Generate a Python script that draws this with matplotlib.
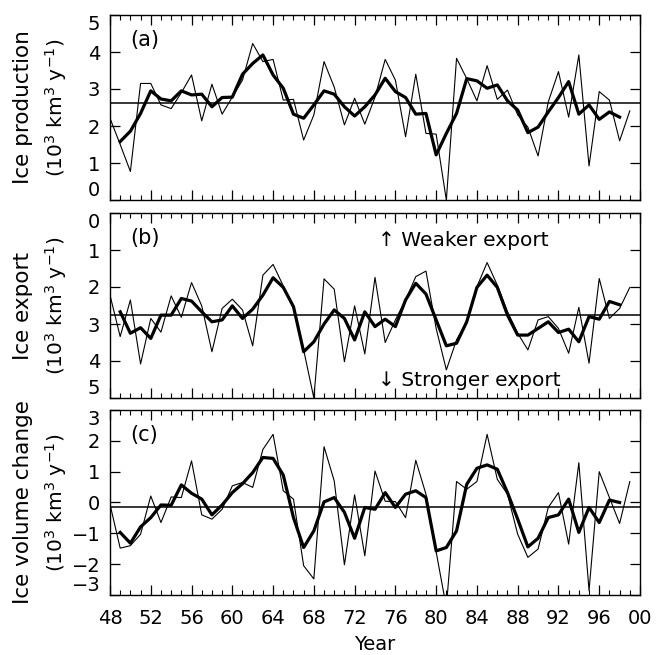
import matplotlib
matplotlib.use("Agg")
import matplotlib.pyplot as plt
from matplotlib.ticker import MultipleLocator, FuncFormatter

# annual values (thin) and smoothed values (thick), years 48-99 / 49-98
years = list(range(48, 100))
years_s = list(range(49, 99))

prod = [2.21, 1.5, 0.77, 3.15, 3.15, 2.57, 2.47, 2.9, 3.38, 2.14,
        3.13, 2.32, 2.78, 3.24, 4.23, 3.74, 3.8, 2.7, 2.72, 1.62,
        2.3, 3.74, 3.05, 2.03, 2.75, 2.05, 2.78, 3.8, 3.24, 1.71,
        3.4, 1.8, 1.78, 0.0, 3.83, 3.28, 2.68, 3.63, 2.72, 2.97,
        2.3, 1.97, 1.19, 2.65, 3.47, 2.24, 3.92, 0.92, 2.93, 2.7,
        1.6, 2.41]
prod_s = [1.58, 1.86, 2.34, 2.95, 2.73, 2.68, 2.95, 2.84, 2.86, 2.52,
          2.77, 2.78, 3.4, 3.69, 3.92, 3.38, 3.02, 2.32, 2.21, 2.57,
          2.95, 2.86, 2.52, 2.27, 2.52, 2.84, 3.29, 2.93, 2.77, 2.32,
          2.34, 1.22, 1.8, 2.34, 3.28, 3.22, 3.02, 3.11, 2.68, 2.43,
          1.82, 1.97, 2.38, 2.77, 3.2, 2.32, 2.57, 2.18, 2.38, 2.24]
prod_mean = 2.61

export = [2.22, 3.34, 2.35, 4.08, 2.85, 3.22, 2.24, 2.82, 1.88, 2.51,
          3.75, 2.58, 2.33, 2.62, 3.59, 1.68, 1.39, 1.97, 2.58, 3.7,
          5.0, 1.78, 2.06, 4.02, 2.51, 3.81, 1.74, 3.5, 2.89, 2.35,
          1.72, 1.57, 3.12, 4.24, 3.43, 2.94, 1.99, 1.34, 1.95, 2.67,
          3.25, 3.7, 2.89, 2.8, 3.12, 3.79, 2.55, 4.06, 1.77, 2.85,
          2.58, 2.01]
export_s = [2.67, 3.25, 3.1, 3.39, 2.76, 2.76, 2.31, 2.38, 2.67, 2.94,
            2.89, 2.51, 2.85, 2.6, 2.22, 1.75, 2.01, 2.53, 3.75, 3.48,
            3.0, 2.62, 2.85, 3.43, 2.67, 3.07, 2.87, 3.07, 2.35, 1.9,
            2.19, 2.89, 3.59, 3.52, 2.94, 2.01, 1.68, 2.01, 2.76, 3.3,
            3.3, 3.12, 2.94, 3.23, 3.14, 3.48, 2.8, 2.87, 2.39, 2.48]
export_mean = 2.77

dvol = [-0.06, -1.48, -1.4, -1.03, 0.21, -0.65, 0.18, 0.16, 1.35, -0.4,
        -0.54, -0.22, 0.54, 0.65, 0.49, 1.72, 2.21, 0.38, 0.11, -2.05,
        -2.48, 1.81, 0.7, -2.02, 0.25, -1.73, 1.02, 0.04, 0.03, -0.49,
        1.37, 0.27, -1.6, -3.4, 0.68, 0.43, 0.68, 2.21, 0.75, 0.27,
        -1.03, -1.78, -1.51, -0.16, 0.32, -1.35, 1.29, -2.86, 1.0, 0.16,
        -0.68, 0.68]
dvol_s = [-0.97, -1.32, -0.79, -0.49, -0.08, -0.09, 0.57, 0.3, 0.11, -0.4,
          -0.08, 0.32, 0.61, 0.97, 1.46, 1.43, 0.89, -0.49, -1.46, -0.92,
          0.02, 0.16, -0.32, -1.16, -0.16, -0.22, 0.32, -0.16, 0.27, 0.38,
          0.16, -1.57, -1.46, -0.92, 0.59, 1.11, 1.22, 1.08, 0.32, -0.54,
          -1.44, -1.16, -0.49, -0.4, 0.11, -0.97, -0.16, -0.65, 0.08, 0.0]
dvol_mean = -0.14

plt.rcParams['font.family'] = 'DejaVu Sans'
plt.rcParams['font.size'] = 13

fig = plt.figure(figsize=(6.61, 6.55), dpi=100)
W, H = 661, 655
left, right = 110, 640
tops = [15, 213, 410]
h = 185

unit = "(10$^3$ km$^3$ y$^{-1}$)"
panels = [
    (prod, prod_s, prod_mean, (0, 5), "Ice production", "(a)"),
    (export, export_s, export_mean, (5, 0), "Ice export", "(b)"),
    (dvol, dvol_s, dvol_mean, (-3, 3), "Ice volume change", "(c)"),
]

axes = []
for i, (thin, thick, mean, ylim, name, tag) in enumerate(panels):
    top = tops[i]
    ax = fig.add_axes([left / W, 1 - (top + h) / H, (right - left) / W, h / H])
    ax.plot(years, thin, color="black", lw=0.8)
    ax.plot(years_s, thick, color="black", lw=2.3)
    ax.axhline(mean, color="black", lw=1.1)
    ax.set_xlim(48, 100)
    ax.set_ylim(*ylim)
    ax.xaxis.set_major_locator(MultipleLocator(4))
    ax.xaxis.set_minor_locator(MultipleLocator(1))
    ax.yaxis.set_major_locator(MultipleLocator(1))
    ax.tick_params(which="both", direction="in", top=True, right=True)
    ax.tick_params(which="major", length=7, width=0.9)
    ax.tick_params(which="minor", length=3.5, width=0.8)
    ax.tick_params(axis="y", pad=7, labelsize=14)
    for sp in ax.spines.values():
        sp.set_linewidth(1.0)
    ax.text(0.038, 0.865, tag, transform=ax.transAxes, fontsize=15,
            ha="left", va="center")
    # keep the end labels inside the panel so neighbours do not collide
    fig.canvas.draw()
    ticks = ax.get_yticks()
    lo, hi = min(ylim), max(ylim)
    for t, lab in zip(ticks, ax.get_yticklabels()):
        if abs(t - hi) < 1e-6:
            lab.set_va("top" if ylim[1] > ylim[0] else "bottom")
        elif abs(t - lo) < 1e-6:
            lab.set_va("bottom" if ylim[1] > ylim[0] else "top")
    yc = 1 - (top + h / 2) / H
    fig.text(23 / W, yc, name, rotation=90, ha="center", va="center", fontsize=15.5)
    fig.text(56 / W, yc, unit, rotation=90, ha="center", va="center", fontsize=14.5)
    if i < 2:
        ax.tick_params(axis="x", labelbottom=False)
    axes.append(ax)

axes[2].xaxis.set_major_formatter(FuncFormatter(lambda v, p: "%02d" % (int(v) % 100)))
axes[2].tick_params(axis="x", pad=10, labelsize=14)
axes[2].set_xlabel("Year", fontsize=14, labelpad=5)

axes[1].text(0.505, 0.854, "\u2191 Weaker export", transform=axes[1].transAxes,
             fontsize=14.5, ha="left", va="center")
axes[1].text(0.505, 0.097, "\u2193 Stronger export", transform=axes[1].transAxes,
             fontsize=14.5, ha="left", va="center")

fig.savefig("out.png", dpi=100)
